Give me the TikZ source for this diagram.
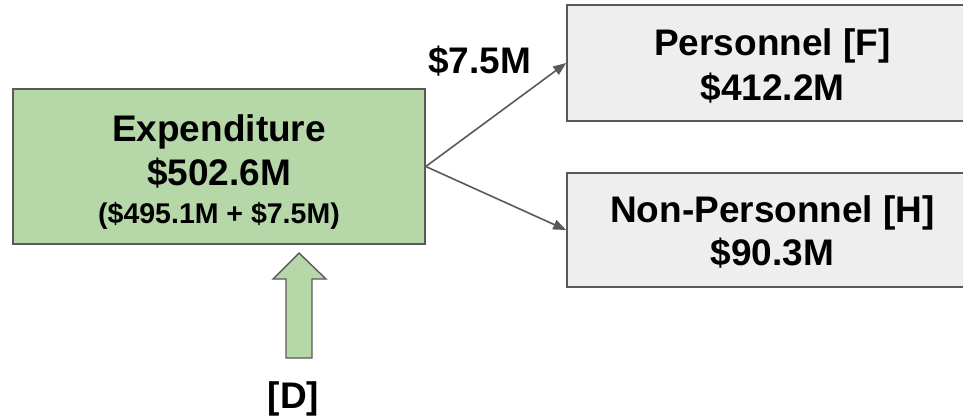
\documentclass[tikz,border=0pt]{standalone}
\usepackage{fontspec}
\setmainfont{Liberation Sans}
\usetikzlibrary{arrows.meta}
\definecolor{boxgreen}{HTML}{B6D7A8}
\definecolor{boxgray}{HTML}{EEEEEE}
\definecolor{edgegray}{HTML}{595959}
\begin{document}
\begin{tikzpicture}[x=1pt,y=-1pt,
  box/.style={draw=edgegray,line width=1.6pt,rectangle,inner sep=0pt},
  big/.style={font=\fontsize{37}{40}\selectfont\bfseries,anchor=base,inner sep=0pt},
  small/.style={font=\fontsize{28.5}{32}\selectfont\bfseries,anchor=base,inner sep=0pt},
  link/.style={draw=edgegray,line width=1.6pt,-{Stealth[length=13pt,width=10pt,inset=0pt]}}]
\useasboundingbox (0,0) rectangle (963,418);
\node[box,fill=boxgreen,minimum width=412pt,minimum height=155pt] (exp) at (219,166.5) {};
\node[box,fill=boxgray,minimum width=411pt,minimum height=116pt] (pers) at (772.5,63) {};
\node[box,fill=boxgray,minimum width=411pt,minimum height=114pt] (nonp) at (772.5,230) {};
\node[big] (t1) at (219,141.5) {Expenditure};
\node[big] (t2) at (219,185) {\$502.6M};
\node[small] (t3) at (219,223) {(\$495.1M + \$7.5M)};
\node[big] (t4) at (772.5,55) {Personnel [F]};
\node[big] (t5) at (772.5,100) {\$412.2M};
\node[big] (t6) at (772.5,222) {Non-Personnel [H]};
\node[big] (t7) at (772.5,265) {\$90.3M};
\node[big] (lab) at (479.5,73) {\$7.5M};
\node[big] (d) at (293.5,408) {[D]};
\draw[link] (exp.east) -- (pers.west);
\draw[link] (exp.east) -- (nonp.west);
\draw[draw=edgegray,fill=boxgreen,line width=1.4pt,line join=miter]
  (299,253) -- (326,279) -- (312,279) -- (312,358) -- (286,358) -- (286,279) -- (273,279) -- cycle;
\end{tikzpicture}
\end{document}
